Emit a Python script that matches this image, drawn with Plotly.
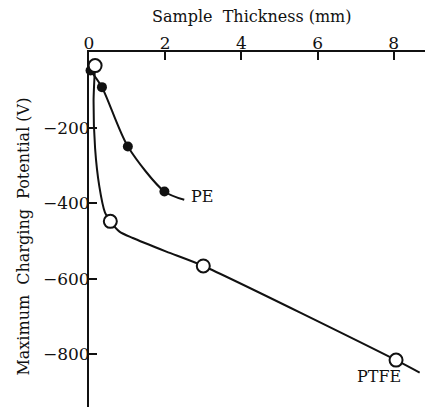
import plotly.graph_objects as go

pe_thickness = [0.04, 0.34, 1.02, 1.98]
pe_potential = [-49, -93, -250, -369]
ptfe_thickness = [0.16, 0.56, 3.0, 8.06]
ptfe_potential = [-36, -448, -566, -815]

# Hand-drawn curve vertices
pe_curve_x = [0.04, 0.34, 1.02, 1.98, 2.5]
pe_curve_y = [-49, -93, -250, -369, -391]
ptfe_curve_x = [0.16, 0.12, 0.16, 0.27, 0.42, 0.56, 0.8, 1.15, 2.03, 3.0, 8.06, 8.68]
ptfe_curve_y = [-36, -130, -255, -355, -425, -448, -475, -492, -528, -566, -815, -848]

x_ticks = [0, 2, 4, 6, 8]
y_ticks = [-200, -400, -600, -800]

FONT = "DejaVu Serif"
INK = "#111111"

fig = go.Figure()
fig.add_trace(go.Scatter(x=pe_curve_x, y=pe_curve_y, mode="lines",
                         line=dict(color=INK, width=2, shape="spline", smoothing=0.8),
                         hoverinfo="skip", showlegend=False))
fig.add_trace(go.Scatter(x=ptfe_curve_x, y=ptfe_curve_y, mode="lines",
                         line=dict(color=INK, width=2, shape="spline", smoothing=0.7),
                         hoverinfo="skip", showlegend=False))
fig.add_trace(go.Scatter(x=pe_thickness, y=pe_potential, mode="markers", name="PE",
                         marker=dict(color=INK, size=10, symbol="circle"),
                         cliponaxis=False, showlegend=False))
fig.add_trace(go.Scatter(x=ptfe_thickness, y=ptfe_potential, mode="markers", name="PTFE",
                         marker=dict(color="white", size=13, symbol="circle",
                                     line=dict(color=INK, width=2)),
                         cliponaxis=False, showlegend=False))

fig.add_annotation(x=2.63, y=-382, text="PE", showarrow=False, xanchor="left",
                   yanchor="middle", font=dict(family=FONT, size=16, color=INK))
fig.add_annotation(x=8.24, y=-857, text="PTFE", showarrow=False, xanchor="right",
                   yanchor="middle", font=dict(family=FONT, size=16, color=INK))

# axis titles placed as paper annotations
fig.add_annotation(xref="paper", yref="paper", x=0.474, y=1.101,
                   text="Sample  Thickness (mm)", showarrow=False,
                   xanchor="center", yanchor="middle",
                   font=dict(family=FONT, size=16, color=INK))
fig.add_annotation(xref="paper", yref="paper", x=-0.19, y=0.479,
                   text="Maximum  Charging  Potential (V)", showarrow=False,
                   textangle=-90, xanchor="center", yanchor="middle",
                   font=dict(family=FONT, size=16, color=INK))

# page has an 8px body margin, so the figure is drawn at (8, 8)
fig.update_layout(
    width=425, height=399,
    margin=dict(l=81, r=0, t=44, b=0, autoexpand=False),
    paper_bgcolor="white", plot_bgcolor="white",
    font=dict(family=FONT, size=16, color=INK),
    showlegend=False,
    xaxis=dict(side="top", range=[0, 9.03], tickvals=x_ticks, automargin=False,
               ticks="inside", ticklen=8, tickwidth=2, tickcolor=INK,
               ticklabelstandoff=-6,
               showline=True, linewidth=2, linecolor=INK,
               showgrid=False, zeroline=False,
               tickfont=dict(family=FONT, size=17)),
    yaxis=dict(range=[-939, 0], tickvals=y_ticks, automargin=False,
               ticks="inside", ticklen=8, tickwidth=2, tickcolor=INK,
               ticklabelstandoff=-6,
               showline=True, linewidth=2, linecolor=INK,
               showgrid=False, zeroline=False,
               tickfont=dict(family=FONT, size=17)),
)

fig.write_html("out.html")
